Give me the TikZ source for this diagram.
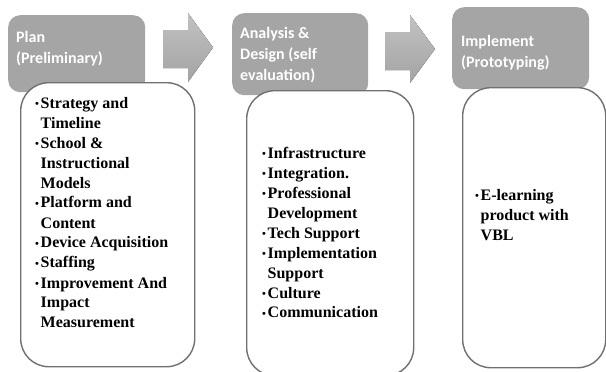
\documentclass[tikz,border=0pt]{standalone}
\usepackage{fontspec}
\setmainfont{Liberation Serif}
\newfontfamily\hdrfont{Carlito}
\definecolor{hdrgray}{HTML}{A5A5A5}
\definecolor{arrtop}{HTML}{C2C2C2}
\definecolor{arrbot}{HTML}{A3A3A3}
\definecolor{cardline}{HTML}{707070}
\newcommand{\bul}{\makebox[5.5pt][l]{\fontsize{11}{11}\selectfont\raisebox{0.5pt}{•}}}
\newcommand{\cont}{\hspace*{5.5pt}}
\tikzset{
  hdr/.style={fill=hdrgray, draw=none, rounded corners=12pt, anchor=north west, inner sep=0pt},
  card/.style={fill=white, draw=cardline, line width=1.4pt, rounded corners=28pt, anchor=north west, inner sep=0pt},
  hdrtext/.style={anchor=base west, inner sep=0pt, text=white, font=\hdrfont\bfseries\fontsize{16}{21}\selectfont},
  bodytext/.style={anchor=base west, inner sep=0pt, text=black, font=\bfseries\fontsize{16}{20}\selectfont},
  arrowshape/.style={top color=arrtop, bottom color=arrbot, draw=none}
}
\begin{document}
\begin{tikzpicture}[x=1pt,y=-1pt]
\useasboundingbox (0,0) rectangle (606,372);
% arrows
\fill[arrowshape] (163,30) -- (188,30) -- (188,13) -- (213,47.5) -- (188,82) -- (188,68) -- (163,68) -- cycle;
\fill[arrowshape] (385,32) -- (410,32) -- (410,15) -- (435,49) -- (410,83) -- (410,70) -- (385,70) -- cycle;
% headers
\node[hdr, minimum width=137pt, minimum height=77pt] (h1) at (8,15) {};
\node[hdr, minimum width=136pt, minimum height=82pt] (h2) at (232,13) {};
\node[hdr, minimum width=137pt, minimum height=82pt] (h3) at (452,7) {};
% cards
\node[card, minimum width=174pt, minimum height=284pt] (b1) at (20,82) {};
\node[card, minimum width=167pt, minimum height=285pt] (b2) at (246,90) {};
\node[card, minimum width=143pt, minimum height=280pt] (b3) at (462,87) {};
% header texts
\node[hdrtext] (ht1) at (16,42) {\begin{tabular}[t]{@{}l@{}}Plan\\(Preliminary)\end{tabular}};
\node[hdrtext] (ht2) at (240,38) {\begin{tabular}[t]{@{}l@{}}Analysis \&\\Design (self\\evaluation)\end{tabular}};
\node[hdrtext] (ht3) at (461,46) {\begin{tabular}[t]{@{}l@{}}Implement\\(Prototyping)\end{tabular}};
% body texts
\node[bodytext] (bt1) at (35,108) {\begin{tabular}[t]{@{}l@{}}
\bul Strategy and\\
\cont Timeline\\
\bul School \&\\
\cont Instructional\\
\cont Models\\
\bul Platform and\\
\cont Content\\
\bul Device Acquisition\\
\bul Staffing\\
\bul Improvement And\\
\cont Impact\\
\cont Measurement
\end{tabular}};
\node[bodytext] (bt2) at (262,158) {\begin{tabular}[t]{@{}l@{}}
\bul Infrastructure\\
\bul Integration.\\
\bul Professional\\
\cont Development\\
\bul Tech Support\\
\bul Implementation\\
\cont Support\\
\bul Culture\\
\bul Communication
\end{tabular}};
\node[bodytext] (bt3) at (475,200) {\begin{tabular}[t]{@{}l@{}}
\bul E-learning\\
\cont product with\\
\cont VBL
\end{tabular}};
\end{tikzpicture}
\end{document}
